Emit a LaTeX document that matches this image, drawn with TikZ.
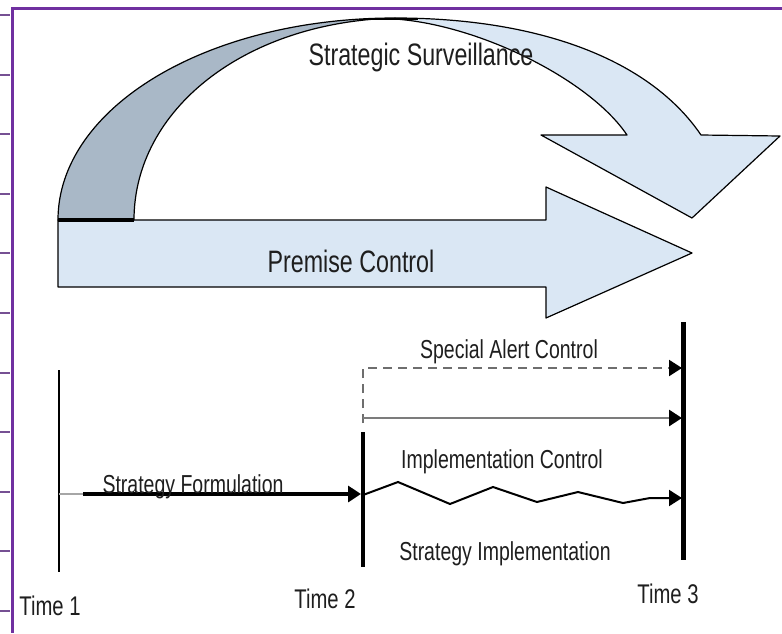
\documentclass[tikz,border=0pt]{standalone}
\usepackage{fontspec}
\usepackage{xcolor}
\usepackage{tikz}
\usetikzlibrary{arrows.meta,positioning}
\newfontfamily\narrowsans[FakeStretch=0.75]{Liberation Sans}
\definecolor{scPurple}{HTML}{7030A0}
\definecolor{scSky}{HTML}{DAE7F4}
\definecolor{scSteel}{HTML}{A9B8C7}
\definecolor{scInk}{HTML}{1E1E1E}
\definecolor{scGrey}{HTML}{6E6E6E}
\tikzset{
  band outline/.style={draw=black,line width=0.6pt,line join=round},
  big label/.style={font=\narrowsans\fontsize{15.5}{18}\selectfont,text=scInk,anchor=base,inner sep=0pt},
  small label/.style={font=\narrowsans\fontsize{13}{15}\selectfont,text=scInk,anchor=base,inner sep=0pt},
  time mark/.style={draw=black,line width=2pt},
  time arrow/.style={-{Triangle[length=6.5pt,width=8pt,color=black]},line width=2pt},
  frame rule/.style={draw=scPurple,line width=1.5pt}
}

\begin{document}
\begin{tikzpicture}[x=0.5pt,y=-0.5pt]
\useasboundingbox (0,0) rectangle (782,633);
\fill[white] (0,0) rectangle (782,633);

% page frame
\draw[frame rule] (782,8) -| (12,633);
\foreach \k in {0,...,10}
  \draw[scPurple!60!gray,line width=1pt] (0,{15+59.6*\k}) -- (10,{15+59.6*\k});

% premise control arrow
\filldraw[fill=scSky,band outline] (58,220) -- (546,220) -- (546,187) -- (692,253)
  -- (546,318) -- (546,287) -- (58,287) -- cycle;

% strategic surveillance, back and front of the bent arrow
\filldraw[fill=scSteel,band outline] (58,220) .. controls (58,108) and (206,18) .. (395,18)
  .. controls (244,22) and (134,110) .. (134,220) -- cycle;
\filldraw[fill=scSky,band outline] (395,18) .. controls (540,18) and (650,60) .. (701,135)
  -- (780,136) -- (692,218) -- (541,135) -- (627,135)
  .. controls (590,80) and (480,25) .. (395,19) -- cycle;
\draw[line width=1.6pt] (58,220) -- (134,220);
\draw[line width=1.4pt] (372,19) -- (418,19);

\node[big label] (surv) at (421,65) {Strategic Surveillance};
\node[big label] (premise) at (351,272) {Premise Control};

% time marks
\coordinate (t1top) at (59,370);   \coordinate (t1bot) at (59,572);
\coordinate (t2top) at (363,432);  \coordinate (t2bot) at (363,567);
\coordinate (t3top) at (683,322);  \coordinate (t3bot) at (683,560);
\draw[black,line width=0.7pt] (t1top) -- (t1bot);
\draw[time mark] (t2top) -- (t2bot);
\draw[time mark,line width=2.5pt] (t3top) -- (t3bot);

\node[small label,font=\narrowsans\fontsize{13.5}{15}\selectfont] (time1) at (50,615) {Time 1};
\node[small label,font=\narrowsans\fontsize{13.5}{15}\selectfont] (time2) at (325,608) {Time 2};
\node[small label,font=\narrowsans\fontsize{13.5}{15}\selectfont] (time3) at (668,603) {Time 3};

% formulation
\coordinate (sf0) at (59,494);
\coordinate (sf1) at (83,494);
\coordinate (sf2) at (361,494);
\draw[gray!70,line width=1.4pt] (sf0) -- (sf1);
\draw[time arrow] (sf1) -- (sf2);
\node[small label] (formulation) at (193,493) {Strategy Formulation};

% special alert and strategic controls
\coordinate (sa0) at (363,423);
\coordinate (sa1) at (682,368);
\coordinate (sc0) at (363,418);
\coordinate (sc1) at (682,418);
\draw[time arrow,scGrey,line width=1.1pt,dash pattern=on 4.5pt off 3pt] (sa0) |- (sa1);
\draw[time arrow,scGrey!90,line width=1.4pt] (sc0) -- (sc1);
\node[small label] (alert) at (509,358) {Special Alert Control};

% implementation
\coordinate (zz0) at (363,495);
\coordinate (zz1) at (682,498);
\draw[time arrow,line width=1pt,line join=miter] (zz0) -- (398,482) -- (450,504) -- (493,487)
  -- (537,502) -- (578,492) -- (623,503) -- (650,498) -- (zz1);
\node[small label] (impctl) at (502,468) {Implementation Control};
\node[small label] (impl) at (505,560) {Strategy Implementation};
\end{tikzpicture}
\end{document}
